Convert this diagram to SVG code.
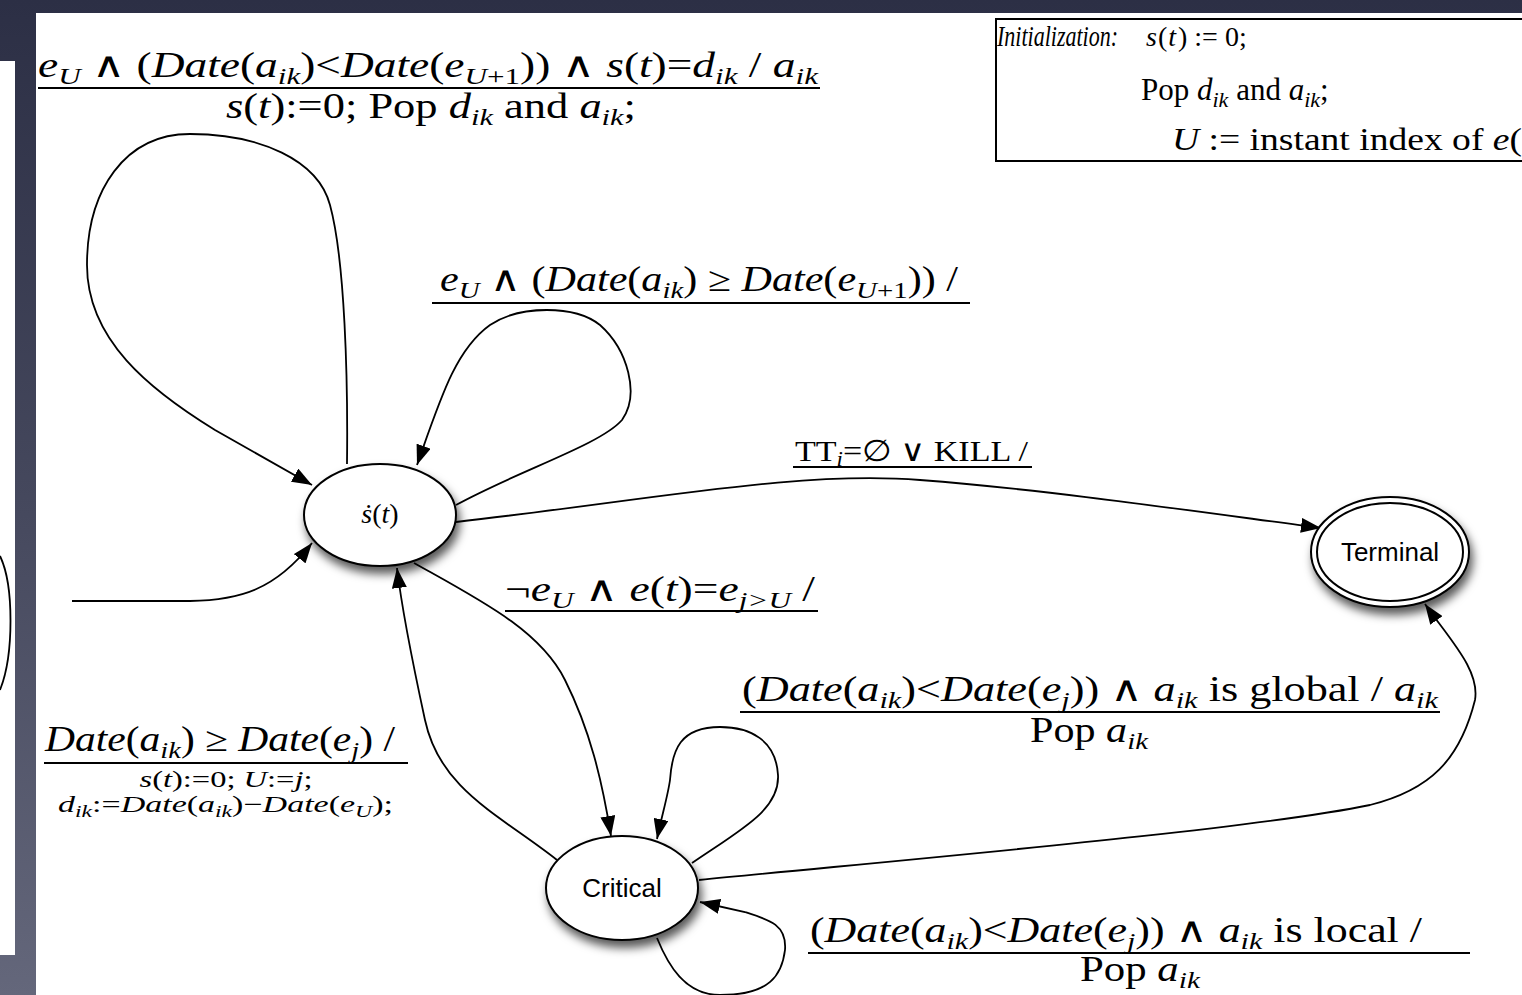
<svg xmlns="http://www.w3.org/2000/svg" width="1522" height="995" viewBox="0 0 1522 995">
<style>
.m{font-family:"Liberation Serif","DejaVu Serif",serif;font-size:35px;fill:#000}
.sm{font-family:"Liberation Serif","DejaVu Serif",serif;font-size:23px;fill:#000}
.i{font-style:italic}
.s{font-size:24px}
.ss{font-size:16px}
.ul{stroke:#000;stroke-width:1.8}
.e{fill:none;stroke:#000;stroke-width:1.8;marker-end:url(#arr)}
.nd{fill:#fff;stroke:#000;stroke-width:2}
.nl{font-family:"Liberation Sans",Arial,sans-serif;font-size:26px;fill:#000;text-anchor:middle}
</style>
<defs>
<linearGradient id="bg" x1="0" y1="0" x2="0" y2="1">
<stop offset="0" stop-color="#2c2f45"/>
<stop offset="0.5" stop-color="#45485d"/>
<stop offset="1" stop-color="#64677b"/>
</linearGradient>
<filter id="sh" x="-30%" y="-30%" width="160%" height="170%">
<feDropShadow dx="3" dy="7" stdDeviation="5" flood-color="#000" flood-opacity="0.65"/>
</filter>
<marker id="arr" markerUnits="userSpaceOnUse" markerWidth="21" markerHeight="15" refX="20" refY="7.5" orient="auto">
<path d="M0,0 L20,7.5 L0,15 z" fill="#000"/>
</marker>
</defs>
<rect x="0" y="0" width="1522" height="995" fill="url(#bg)"/>
<rect x="36" y="13" width="1486" height="982" fill="#fff"/>
<rect x="0" y="61" width="15" height="894" fill="#fff"/>
<path d="M0,556 C14,585 14,655 0,690" fill="none" stroke="#000" stroke-width="1.8"/>

<g id="edges">
<path class="e" d="M347,464 C348,380 345,260 330,205 C318,160 260,134 190,134 C125,134 87,190 87,265 C87,340 150,390 215,430 L312,485"/>
<path class="e" d="M456,505 C520,470 600,445 622,420 C640,395 628,350 600,325 C575,305 520,305 490,325 C455,350 440,400 417,465"/>
<path class="e" d="M456,522 C650,500 800,470 920,480 C1050,490 1200,512 1321,528"/>
<path class="e" d="M414,563 C480,600 540,630 565,680 C590,730 602,780 611,836"/>
<path class="e" d="M557,860 C500,815 440,790 425,720 C412,660 402,610 397,568"/>
<path class="e" d="M692,863 C740,830 780,810 778,775 C776,740 750,727 720,727 C680,727 672,750 670,780 C668,795 662,815 657,839"/>
<path class="e" d="M699,880 C900,860 1250,830 1370,805 C1430,790 1460,760 1475,700 C1480,670 1450,640 1425,604"/>
<path class="e" d="M657,938 C668,965 685,995 720,995 C770,995 782,975 785,950 C787,925 770,920 745,912 L700,902"/>
<path class="e" d="M72,601 L190,601 C240,600 275,590 312,543"/>
</g>

<g id="node-sdot">
<ellipse class="nd" cx="380" cy="515" rx="76" ry="51" filter="url(#sh)"/>
<text class="m i" x="380" y="523" style="font-size:28px" text-anchor="middle">ṡ<tspan font-style="normal">(</tspan>t<tspan font-style="normal">)</tspan></text>
</g>

<g id="node-critical">
<ellipse class="nd" cx="622" cy="888" rx="76" ry="52" filter="url(#sh)"/>
<text class="nl" x="622" y="897">Critical</text>
</g>

<g id="node-terminal">
<ellipse class="nd" cx="1390" cy="552" rx="79" ry="55" filter="url(#sh)"/>
<ellipse fill="none" stroke="#000" stroke-width="2" cx="1390" cy="552" rx="73" ry="49"/>
<text class="nl" x="1390" y="561">Terminal</text>
</g>

<g id="init-box">
<rect x="996" y="19" width="540" height="142" fill="#fff" stroke="#000" stroke-width="2"/>
<text class="m i" transform="translate(997,46) scale(1,1.3)" x="0" y="0" style="font-size:23px" textLength="121" lengthAdjust="spacingAndGlyphs">Initialization:</text>
<text class="m" x="1146" y="46" style="font-size:28px"><tspan class="i">s</tspan><tspan dx="1">(</tspan><tspan class="i" dx="1">t</tspan><tspan dx="2">) := 0;</tspan></text>
<text class="m" x="1141" y="100" style="font-size:31px">Pop <tspan class="i">d</tspan><tspan class="i" style="font-size:22px" dy="7">ik</tspan><tspan dy="-7"> and </tspan><tspan class="i">a</tspan><tspan class="i" style="font-size:22px" dy="7">ik</tspan><tspan dy="-7">;</tspan></text>
<text class="m" x="1172" y="150" style="font-size:32px" textLength="350" lengthAdjust="spacingAndGlyphs"><tspan class="i">U</tspan> := instant index of <tspan class="i">e</tspan>(</text>
</g>

<g id="labels">
<text class="m" x="38" y="77" textLength="780" lengthAdjust="spacingAndGlyphs"><tspan class="i">e</tspan><tspan class="i s" dy="7">U</tspan><tspan dy="-7"> ∧ (</tspan><tspan class="i">Date</tspan>(<tspan class="i">a</tspan><tspan class="i s" dy="7">ik</tspan><tspan dy="-7">)&lt;</tspan><tspan class="i">Date</tspan>(<tspan class="i">e</tspan><tspan class="i s" dy="7">U</tspan><tspan class="s">+1</tspan><tspan dy="-7">)) ∧ </tspan><tspan class="i">s</tspan>(<tspan class="i">t</tspan>)=<tspan class="i">d</tspan><tspan class="i s" dy="7">ik</tspan><tspan dy="-7"> / </tspan><tspan class="i">a</tspan><tspan class="i s" dy="7">ik</tspan></text>
<line class="ul" x1="38" y1="88" x2="820" y2="88"/>
<text class="m" x="431" y="118" text-anchor="middle" textLength="410" lengthAdjust="spacingAndGlyphs"><tspan class="i">s</tspan>(<tspan class="i">t</tspan>):=0; Pop <tspan class="i">d</tspan><tspan class="i s" dy="7">ik</tspan><tspan dy="-7"> and </tspan><tspan class="i">a</tspan><tspan class="i s" dy="7">ik</tspan><tspan dy="-7">;</tspan></text>

<text class="m" x="440" y="291" textLength="518" lengthAdjust="spacingAndGlyphs"><tspan class="i">e</tspan><tspan class="i s" dy="7">U</tspan><tspan dy="-7">  ∧  (</tspan><tspan class="i">Date</tspan>(<tspan class="i">a</tspan><tspan class="i s" dy="7">ik</tspan><tspan dy="-7">) ≥ </tspan><tspan class="i">Date</tspan>(<tspan class="i">e</tspan><tspan class="i s" dy="7">U</tspan><tspan class="s">+1</tspan><tspan dy="-7">)) /</tspan></text>
<line class="ul" x1="432" y1="303" x2="970" y2="303"/>

<text class="m" x="795" y="461" style="font-size:30px" textLength="233" lengthAdjust="spacingAndGlyphs">TT<tspan class="i" style="font-size:20px" dy="5">i</tspan><tspan dy="-5">=∅ ∨ KILL /</tspan></text>
<line class="ul" x1="793" y1="467" x2="1032" y2="467"/>

<text class="m" x="505" y="601" textLength="310" lengthAdjust="spacingAndGlyphs">¬<tspan class="i">e</tspan><tspan class="i s" dy="7">U</tspan><tspan dy="-7"> ∧ </tspan><tspan class="i">e</tspan>(<tspan class="i">t</tspan>)=<tspan class="i">e</tspan><tspan class="i s" dy="7">j&gt;U</tspan><tspan dy="-7">  /</tspan></text>
<line class="ul" x1="505" y1="611" x2="818" y2="611"/>

<text class="m" x="742" y="701" textLength="696" lengthAdjust="spacingAndGlyphs">(<tspan class="i">Date</tspan>(<tspan class="i">a</tspan><tspan class="i s" dy="7">ik</tspan><tspan dy="-7">)&lt;</tspan><tspan class="i">Date</tspan>(<tspan class="i">e</tspan><tspan class="i s" dy="7">j</tspan><tspan dy="-7">)) ∧ </tspan><tspan class="i">a</tspan><tspan class="i s" dy="7">ik</tspan><tspan dy="-7"> is global / </tspan><tspan class="i">a</tspan><tspan class="i s" dy="7">ik</tspan></text>
<line class="ul" x1="740" y1="712" x2="1440" y2="712"/>
<text class="m" x="1089" y="742" text-anchor="middle" textLength="118" lengthAdjust="spacingAndGlyphs">Pop <tspan class="i">a</tspan><tspan class="i s" dy="7">ik</tspan></text>

<text class="m" x="810" y="942" textLength="612" lengthAdjust="spacingAndGlyphs">(<tspan class="i">Date</tspan>(<tspan class="i">a</tspan><tspan class="i s" dy="7">ik</tspan><tspan dy="-7">)&lt;</tspan><tspan class="i">Date</tspan>(<tspan class="i">e</tspan><tspan class="i s" dy="7">j</tspan><tspan dy="-7">)) ∧ </tspan><tspan class="i">a</tspan><tspan class="i s" dy="7">ik</tspan><tspan dy="-7"> is local /</tspan></text>
<line class="ul" x1="808" y1="953" x2="1470" y2="953"/>
<text class="m" x="1140" y="981" text-anchor="middle" textLength="120" lengthAdjust="spacingAndGlyphs">Pop <tspan class="i">a</tspan><tspan class="i s" dy="7">ik</tspan></text>

<text class="m" x="45" y="751" textLength="350" lengthAdjust="spacingAndGlyphs"><tspan class="i">Date</tspan>(<tspan class="i">a</tspan><tspan class="i s" dy="7">ik</tspan><tspan dy="-7">) ≥ </tspan><tspan class="i">Date</tspan>(<tspan class="i">e</tspan><tspan class="i s" dy="7">j</tspan><tspan dy="-7">) /</tspan></text>
<line class="ul" x1="44" y1="763" x2="408" y2="763"/>
<text class="sm" x="226" y="787" text-anchor="middle" textLength="173" lengthAdjust="spacingAndGlyphs"><tspan class="i">s</tspan>(<tspan class="i">t</tspan>):=0; <tspan class="i">U</tspan>:=<tspan class="i">j</tspan>;</text>
<text class="sm" x="58" y="812" textLength="335" lengthAdjust="spacingAndGlyphs"><tspan class="i">d</tspan><tspan class="i ss" dy="5">ik</tspan><tspan dy="-5">:=</tspan><tspan class="i">Date</tspan>(<tspan class="i">a</tspan><tspan class="i ss" dy="5">ik</tspan><tspan dy="-5">)−</tspan><tspan class="i">Date</tspan>(<tspan class="i">e</tspan><tspan class="i ss" dy="5">U</tspan><tspan dy="-5">);</tspan></text>
</g>
</svg>
